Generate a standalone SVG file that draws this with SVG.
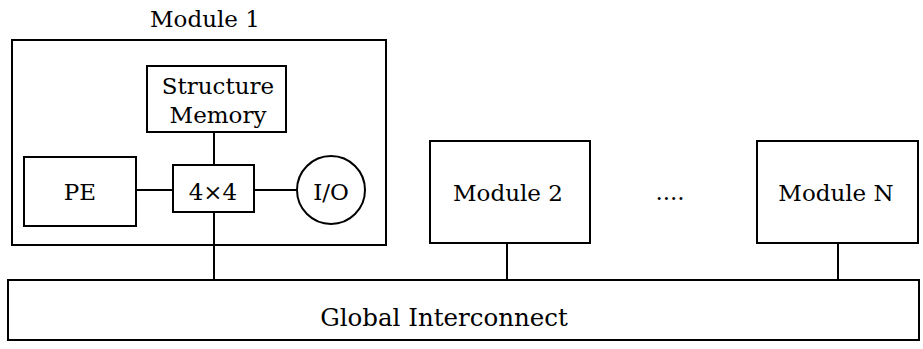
<svg xmlns="http://www.w3.org/2000/svg" width="923" height="349" viewBox="0 0 923 349">
<style>
.b{fill:#fff;stroke:#000;stroke-width:2}
.t{font-family:"DejaVu Serif","Liberation Serif",serif;font-size:23px;fill:#000;text-anchor:middle}
.c line{stroke:#000;stroke-width:2}
</style>
<rect width="923" height="349" fill="#fff"/>
<g id="module1">
<rect class="b" x="12" y="40" width="374" height="205"/>
<text class="t" x="205" y="27">Module 1</text>
</g>
<g id="structure-memory">
<rect class="b" x="147" y="66" width="139" height="66"/>
<text class="t" x="218" y="94">Structure</text>
<text class="t" x="218" y="123">Memory</text>
</g>
<g id="pe">
<rect class="b" x="24" y="157" width="112" height="69"/>
<text class="t" x="80" y="200">PE</text>
</g>
<g id="switch">
<rect class="b" x="173" y="165" width="81" height="47"/>
<text class="t" x="213" y="200">4×4</text>
</g>
<g id="io">
<circle class="b" cx="331" cy="190" r="34"/>
<text class="t" x="331" y="200">I/O</text>
</g>
<g id="module2">
<rect class="b" x="430" y="141" width="160" height="102"/>
<text class="t" x="508" y="201">Module 2</text>
</g>
<g id="ellipsis">
<text class="t" x="670" y="200">....</text>
</g>
<g id="moduleN">
<rect class="b" x="757" y="141" width="161" height="102"/>
<text class="t" x="836" y="201">Module N</text>
</g>
<g id="global">
<rect class="b" x="8" y="280" width="911" height="60"/>
<text class="t" x="444" y="326" style="font-size:24.5px">Global Interconnect</text>
</g>
<g class="c" id="connectors">
<line x1="214" y1="133" x2="214" y2="164"/>
<line x1="137" y1="190" x2="172" y2="190"/>
<line x1="255" y1="190" x2="297" y2="190"/>
<line x1="214" y1="213" x2="214" y2="279"/>
<line x1="507" y1="244" x2="507" y2="279"/>
<line x1="838" y1="244" x2="838" y2="279"/>
</g>
</svg>
